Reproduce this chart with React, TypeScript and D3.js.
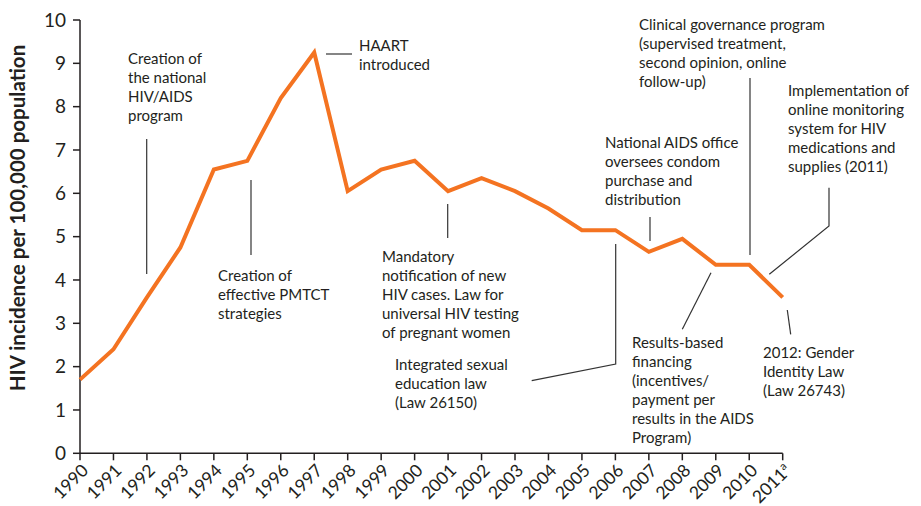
import React from "react";
import * as d3 from "d3";

const years: number[] = [1990,1991,1992,1993,1994,1995,1996,1997,1998,1999,2000,2001,2002,2003,2004,2005,2006,2007,2008,2009,2010,2011];
const incidence: number[] = [1.7,2.4,3.6,4.75,6.55,6.75,8.2,9.25,6.05,6.55,6.75,6.05,6.35,6.05,5.65,5.15,5.15,4.65,4.95,4.35,4.35,3.6];
const yTicks: number[] = [0,1,2,3,4,5,6,7,8,9,10];
const yTitle = "HIV incidence per 100,000 population";

const annotationTexts: string[][] = [
  ["Creation of", "the national", "HIV/AIDS", "program"],
  ["Creation of", "effective PMTCT", "strategies"],
  ["HAART", "introduced"],
  ["Mandatory", "notification of new", "HIV cases. Law for", "universal HIV testing", "of pregnant women"],
  ["Integrated sexual", "education law", "(Law 26150)"],
  ["National AIDS office", "oversees condom", "purchase and", "distribution"],
  ["Clinical governance program", "(supervised treatment,", "second opinion, online", "follow-up)"],
  ["Implementation of", "online monitoring", "system for HIV", "medications and", "supplies (2011)"],
  ["Results-based", "financing", "(incentives/", "payment per", "results in the AIDS", "Program)"],
  ["2012: Gender", "Identity Law", "(Law 26743)"],
];

// layout: text position (x, first baseline) and leader line points (pixels)
const annotationLayout: { tx: number; ty: number; line: [number, number][] }[] = [
  { tx: 128, ty: 64, line: [[146.7, 139], [146.7, 274]] },
  { tx: 218, ty: 281, line: [[251, 180], [251, 255]] },
  { tx: 359, ty: 50.5, line: [[326, 54], [352, 54]] },
  { tx: 382, ty: 261.5, line: [[447.7, 204], [447.7, 238]] },
  { tx: 395, ty: 370, line: [[615.7, 244], [615.7, 364], [531.7, 380.7]] },
  { tx: 605, ty: 147.5, line: [[650, 217], [650, 241]] },
  { tx: 639, ty: 29.5, line: [[750, 78], [750, 255]] },
  { tx: 788, ty: 96, line: [[829, 187.7], [829, 226], [769.3, 274.3]] },
  { tx: 632, ty: 347.5, line: [[711, 272.7], [682.3, 329.3]] },
  { tx: 763, ty: 357.5, line: [[787.3, 310], [790.7, 334.3]] },
];

const FONT = "Lato, 'Open Sans', sans-serif";
const TEXT = "#231f20";

export default function App() {
  const width = 921, height = 506;
  const x = d3.scaleLinear().domain([1990, 2011]).range([80, 782.7]);
  const y = d3.scaleLinear().domain([0, 10]).range([453.3, 20]);
  const line = d3.line<number>().x((_, i) => x(years[i])).y((d) => y(d));
  const leader = d3.line<[number, number]>().x((p) => p[0]).y((p) => p[1]);

  return (
    <svg width={width} height={height} style={{ position: "absolute", left: 0, top: 0, background: "#fff" }} fontFamily={FONT}>
      {/* y axis */}
      <line x1={x(1990)} x2={x(1990)} y1={y(10)} y2={y(0)} stroke={TEXT} strokeWidth={1.5} />
      {yTicks.map((t) => (
        <g key={t}>
          <line x1={x(1990) - 7} x2={x(1990)} y1={y(t)} y2={y(t)} stroke={TEXT} strokeWidth={1.5} />
          <text x={66} y={y(t)} dy="0.35em" textAnchor="end" fontSize={19} fill={TEXT}>{t}</text>
        </g>
      ))}
      {/* x axis */}
      <line x1={x(1990)} x2={x(2011)} y1={y(0)} y2={y(0)} stroke={TEXT} strokeWidth={1.5} />
      {years.map((yr) => (
        <g key={yr}>
          <line x1={x(yr)} x2={x(yr)} y1={y(0)} y2={y(0) + 7} stroke={TEXT} strokeWidth={1.5} />
          <text transform={`translate(${x(yr) + 5},${y(0) + 14}) rotate(-45)`} textAnchor="end" dy="0.35em" fontSize={17.5} fill={TEXT}>
            {yr}
            {yr === 2011 ? <tspan fontSize={11} dy="-0.6em">a</tspan> : null}
          </text>
        </g>
      ))}
      {/* y title */}
      <text transform={`translate(25,218) rotate(-90)`} textAnchor="middle" fontSize={20.5} fontWeight="bold" fill={TEXT}>{yTitle}</text>
      {/* data line */}
      <path d={line(incidence) || ""} fill="none" stroke="#F47321" strokeWidth={4} strokeLinejoin="miter" />
      {/* annotations */}
      {annotationTexts.map((lines, i) => {
        const L = annotationLayout[i];
        return (
          <g key={i}>
            <path d={leader(L.line) || ""} fill="none" stroke="#333" strokeWidth={1.2} />
            <text x={L.tx} y={L.ty} fontSize={15} fill={TEXT}>
              {lines.map((s, j) => (
                <tspan key={j} x={L.tx} dy={j === 0 ? 0 : 19}>{s}</tspan>
              ))}
            </text>
          </g>
        );
      })}
    </svg>
  );
}
